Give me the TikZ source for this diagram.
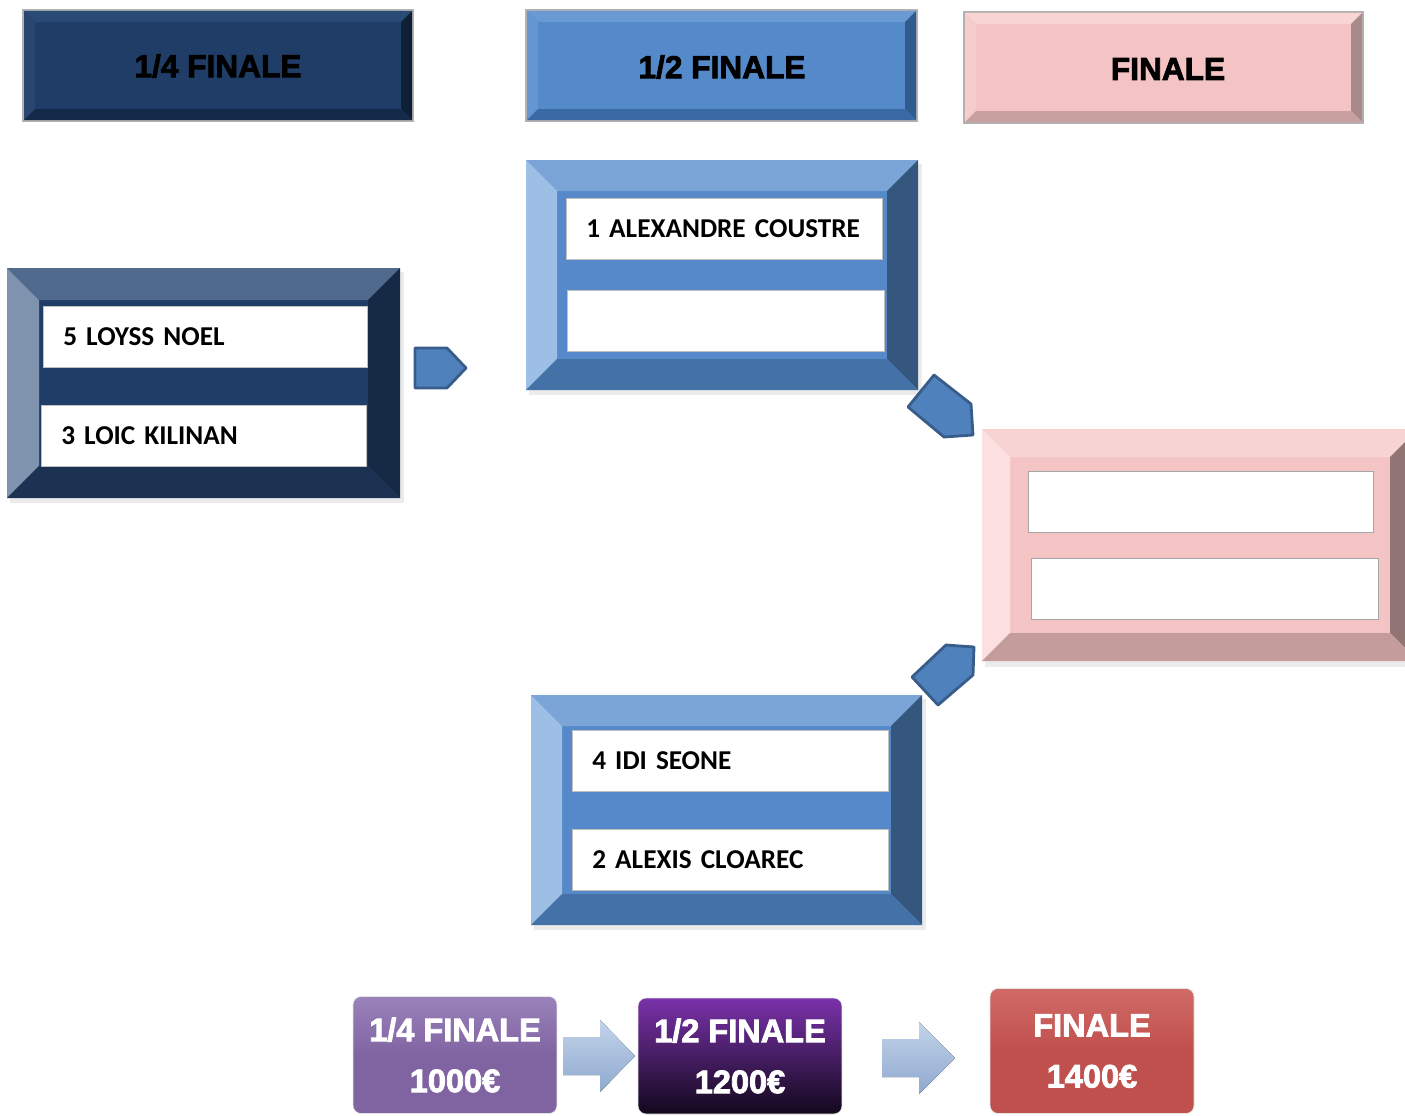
\documentclass[tikz,border=0pt]{standalone}
\usepackage{fontspec}
\setmainfont{Carlito}
\newfontfamily\headfont[BoldFeatures={FakeBold=2.5}]{Liberation Sans}
\usetikzlibrary{positioning}

% frame colours: face, top, left, right, bottom
\definecolor{qface}{HTML}{1F3D66}
\definecolor{qtop}{HTML}{4F6A8C}
\definecolor{qleft}{HTML}{7F93AF}
\definecolor{qright}{HTML}{172A45}
\definecolor{qbottom}{HTML}{1C3252}
\definecolor{sface}{HTML}{5589CA}
\definecolor{stop}{HTML}{7BA5D6}
\definecolor{sleft}{HTML}{9DBFE5}
\definecolor{sright}{HTML}{35577E}
\definecolor{sbottom}{HTML}{4471A6}
\definecolor{fface}{HTML}{F4C4C4}
\definecolor{ftop}{HTML}{F8D3D3}
\definecolor{fleft}{HTML}{FCE0E0}
\definecolor{fright}{HTML}{917474}
\definecolor{fbottom}{HTML}{C49C9C}
\definecolor{hqface}{HTML}{1F3D66}
\definecolor{hqtop}{HTML}{2B4B77}
\definecolor{hqleft}{HTML}{28466F}
\definecolor{hqright}{HTML}{0F1F36}
\definecolor{hqbottom}{HTML}{152A48}
\definecolor{hsface}{HTML}{558ACA}
\definecolor{hstop}{HTML}{6A9AD4}
\definecolor{hsleft}{HTML}{6496D2}
\definecolor{hsright}{HTML}{2F5B8F}
\definecolor{hsbottom}{HTML}{3A6AA3}
\definecolor{hfface}{HTML}{F4C4C4}
\definecolor{hftop}{HTML}{F8D4D4}
\definecolor{hfleft}{HTML}{F6CCCC}
\definecolor{hfright}{HTML}{A88A8A}
\definecolor{hfbottom}{HTML}{C9A0A0}
\definecolor{pointerblue}{HTML}{4F81BD}
\definecolor{pointeredge}{HTML}{385D8A}
\definecolor{prizeq}{HTML}{8064A2}
\definecolor{prizeqtop}{HTML}{9A82BA}
\definecolor{prizestop}{HTML}{7A32AA}
\definecolor{prizesbottom}{HTML}{12081C}
\definecolor{prizef}{HTML}{C0504D}
\definecolor{prizeftop}{HTML}{D06A66}
\definecolor{jumptop}{HTML}{C3D4EA}
\definecolor{jumpbottom}{HTML}{8EA8CE}

\newcommand\bevelframe[6]{%
  \fill[#6face] (#1,#2) rectangle (#3,#4);
  \fill[#6top] (#1,#2) -- (#3,#2) -- ({#3-#5},{#2+#5}) -- ({#1+#5},{#2+#5}) -- cycle;
  \fill[#6left] (#1,#2) -- ({#1+#5},{#2+#5}) -- ({#1+#5},{#4-#5}) -- (#1,#4) -- cycle;
  \fill[#6right] (#3,#2) -- (#3,#4) -- ({#3-#5},{#4-#5}) -- ({#3-#5},{#2+#5}) -- cycle;
  \fill[#6bottom] (#1,#4) -- ({#1+#5},{#4-#5}) -- ({#3-#5},{#4-#5}) -- (#3,#4) -- cycle;
}

\begin{document}
\begin{tikzpicture}[x=0.02cm, y=-0.02cm,
    namebox/.style ={draw=black!25, fill=white, anchor=north west, minimum height=1.22cm,
      inner xsep=0.4cm, text width=#1, align=left, font=\fontsize{15.5}{18}\selectfont\bfseries},
    headtext/.style ={font=\headfont\fontsize{18}{20}\selectfont\bfseries},
    pointer/.style ={fill=pointerblue, draw=pointeredge, line width=1.6pt, line join=round},
    prize/.style ={rounded corners=0.16cm, draw=white!80!gray, minimum width=4.08cm,
      align=center, text=white, font=\headfont\fontsize{18.5}{29}\selectfont\bfseries},
    jump/.style ={top color=jumptop, bottom color=jumpbottom, draw=none}]
  \useasboundingbox (0,0) rectangle (1405,1115);
  \clip (0,0) rectangle (1405,1115);

  % round titles
  \draw[black!30, line width=1pt] (23,10) rectangle (413,121);
  \bevelframe{24}{11}{412}{120}{11}{hq}
  \node[headtext] (tq) at (218,66) {1/4 FINALE};
  \draw[black!30, line width=1pt] (526,10) rectangle (917,121);
  \bevelframe{527}{11}{916}{120}{11}{hs}
  \node[headtext] (ts) at (722,67) {1/2 FINALE};
  \draw[black!30, line width=1pt] (964,12) rectangle (1363,123);
  \bevelframe{965}{13}{1362}{122}{11}{hf}
  \node[headtext] (tf) at (1168,69) {FINALE};

  % shadows
  \fill[black!8] (10,272) rectangle (404,503);
  \fill[black!8] (529,164) rectangle (922,395);
  \fill[black!8] (534,699) rectangle (926,930);
  \fill[black!8] (985,433) rectangle (1420,667);

  % quarter final
  \bevelframe{7}{268}{400}{498}{32}{q}
  \node[namebox=5.68cm] (q1) at (43,306) {5 LOYSS NOEL};
  \node[namebox=5.70cm] (q2) at (41,405) {3 LOIC KILINAN};

  % semi finals
  \bevelframe{526}{160}{918}{390}{31}{s}
  \node[namebox=5.52cm] (s1) at (566,198) {1 ALEXANDRE COUSTRE};
  \node[namebox=5.54cm] (s2) at (567,290) {};
  \bevelframe{531}{695}{922}{925}{31}{s}
  \node[namebox=5.52cm] (s3) at (572,730) {4 IDI SEONE};
  \node[namebox=5.52cm] (s4) at (572,829) {2 ALEXIS CLOAREC};

  % final
  \bevelframe{982}{429}{1418}{661}{28}{f}
  \node[namebox=6.1cm, draw=black!35] (f1) at (1028,471) {};
  \node[namebox=6.14cm, draw=black!35] (f2) at (1031,558) {};

  % pointers
  \draw[pointer] (415,348) -- (447,348) -- (466,368) -- (447,388) -- (415,388) -- cycle;
  \draw[pointer] (908,407) -- (934,375) -- (971,404) -- (973,435) -- (944,437) -- cycle;
  \draw[pointer] (912,677) -- (946,645) -- (974,647) -- (973,675) -- (938,705) -- cycle;

  % prize money
  \node[prize, top color=prizeqtop, bottom color=prizeq, middle color=prizeq, minimum height=2.34cm] (pq) at (455,1055)
    {1/4 FINALE\\1000€};
  \node[prize, top color=prizestop, bottom color=prizesbottom, minimum height=2.32cm] (ps) at (740,1056)
    {1/2 FINALE\\1200€};
  \node[prize, top color=prizeftop, bottom color=prizef, middle color=prizef, minimum height=2.5cm] (pf) at (1092,1051)
    {FINALE\\1400€};
  \fill[jump] (563,1037) -- (600,1037) -- (600,1020) -- (635,1056) -- (600,1092) -- (600,1075) -- (563,1075) -- cycle;
  \fill[jump] (882,1039) -- (919,1039) -- (919,1022) -- (955,1058) -- (919,1094) -- (919,1077) -- (882,1077) -- cycle;
\end{tikzpicture}
\end{document}
